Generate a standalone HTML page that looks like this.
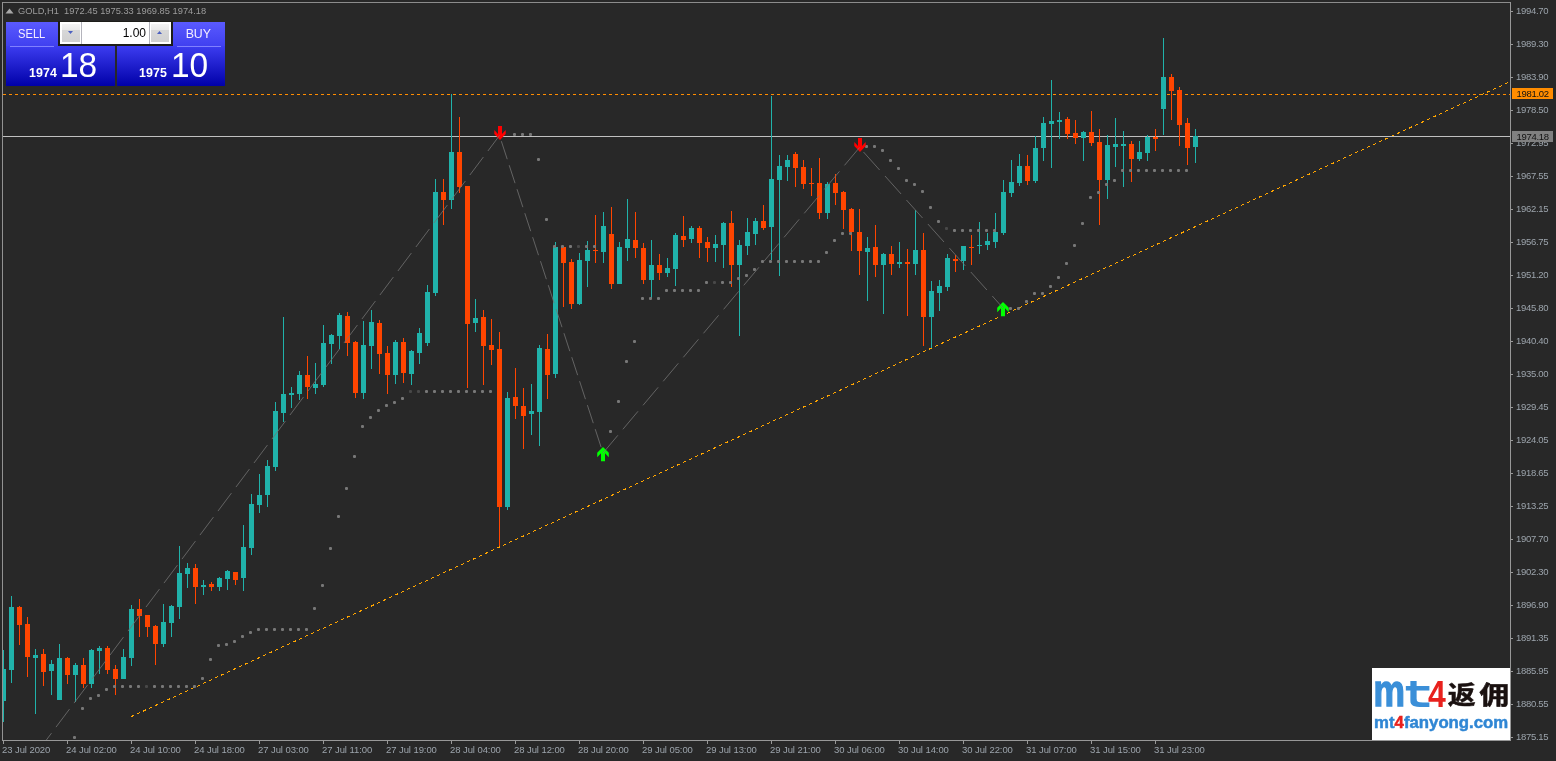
<!DOCTYPE html>
<html><head><meta charset="utf-8"><title>GOLD,H1</title>
<style>
html,body{margin:0;padding:0}
body{width:1556px;height:761px;overflow:hidden;position:relative;background:#282828;font-family:"Liberation Sans",sans-serif}
#chart{position:absolute;left:0;top:0}
.pl{position:absolute;left:1516px;letter-spacing:-.3px;font-size:9.5px;line-height:11px;height:11px;color:#9ca4ac;white-space:nowrap}
.tl{position:absolute;top:744px;letter-spacing:-.08px;font-size:9.5px;line-height:11px;color:#9ca4ac;white-space:nowrap}
.tag{position:absolute;left:1512px;width:41px;height:11px;letter-spacing:-.3px;font-size:9.5px;line-height:11px;color:#111;text-indent:4.5px;white-space:nowrap}
#title{position:absolute;left:18px;top:6px;font-size:9.3px;line-height:11px;color:#9c9c9c;white-space:pre}
.tab{position:absolute;top:22px;height:24px;width:52px;background:linear-gradient(#5a5aff,#4040f0);color:#f4eeff;font-size:12px;line-height:23px;text-align:center}
.tab span{display:inline-block;position:relative;top:1px;transform:scaleX(.93)}
.tab i{position:absolute;left:4px;right:4px;bottom:-1px;height:1px;background:#8080ff}
.pan{position:absolute;top:46px;height:40px;width:109px;background:linear-gradient(#3c3cf0,#0000a8);color:#fff}
.pan b{position:absolute;top:20px;font-size:12.4px;line-height:14px;letter-spacing:.1px}
.pan em{position:absolute;top:0px;font-style:normal;font-size:34.5px;line-height:38px;transform-origin:0 0;transform:scaleX(.97)}
#inpbg{position:absolute;left:58px;top:21px;width:115px;height:25px;background:#1d1d19}
#inp{position:absolute;left:60px;top:22px;width:111px;height:22px;background:#fff}
#inp .b{position:absolute;top:2px;width:18px;height:18px;background:linear-gradient(#f4f4f4 0,#e9e9e9 33%,#d8d8d8 34%,#d0d0d0 100%)}
#inp .s{position:absolute;top:0;width:1px;height:22px;background:#b4b4bc}
#inp .v{position:absolute;right:25px;top:4px;font-size:12px;line-height:14px;color:#000}
#logo{position:absolute;left:1372px;top:668px;width:139px;height:73px;background:#fff;overflow:hidden}
</style></head><body>

<svg id="chart" width="1556" height="761" viewBox="0 0 1556 761"><line x1="3" y1="94.5" x2="1510" y2="94.5" stroke="#ff8c00" stroke-width="1" stroke-dasharray="3 3" shape-rendering="crispEdges"/>
<line x1="131" y1="716.72" x2="1509" y2="82.15" stroke="#ffa500" stroke-width="1" stroke-dasharray="3.3028 3.3028" shape-rendering="crispEdges"/>
<rect x="3" y="136" width="1507" height="1" fill="#c0c0c0" shape-rendering="crispEdges"/>
<g shape-rendering="crispEdges"><rect x="3" y="650" width="1" height="72" fill="#20b2aa"/><rect x="3" y="669" width="3" height="32" fill="#20b2aa"/><rect x="11" y="596" width="1" height="87" fill="#20b2aa"/><rect x="9" y="607" width="5" height="63" fill="#20b2aa"/><rect x="19" y="606" width="1" height="39" fill="#ff4500"/><rect x="17" y="607" width="5" height="18" fill="#ff4500"/><rect x="27" y="617" width="1" height="60" fill="#ff4500"/><rect x="25" y="624" width="5" height="33" fill="#ff4500"/><rect x="35" y="649" width="1" height="65" fill="#20b2aa"/><rect x="33" y="655" width="5" height="3" fill="#20b2aa"/><rect x="43" y="649" width="1" height="37" fill="#ff4500"/><rect x="41" y="654" width="5" height="18" fill="#ff4500"/><rect x="51" y="660" width="1" height="35" fill="#20b2aa"/><rect x="49" y="664" width="5" height="7" fill="#20b2aa"/><rect x="59" y="644" width="1" height="56" fill="#20b2aa"/><rect x="57" y="658" width="5" height="42" fill="#20b2aa"/><rect x="67" y="657" width="1" height="27" fill="#ff4500"/><rect x="65" y="658" width="5" height="17" fill="#ff4500"/><rect x="75" y="663" width="1" height="39" fill="#20b2aa"/><rect x="73" y="665" width="5" height="10" fill="#20b2aa"/><rect x="83" y="658" width="1" height="30" fill="#ff4500"/><rect x="81" y="665" width="5" height="19" fill="#ff4500"/><rect x="91" y="649" width="1" height="39" fill="#20b2aa"/><rect x="89" y="650" width="5" height="34" fill="#20b2aa"/><rect x="99" y="646" width="1" height="28" fill="#20b2aa"/><rect x="97" y="648" width="5" height="3" fill="#20b2aa"/><rect x="107" y="646" width="1" height="28" fill="#ff4500"/><rect x="105" y="648" width="5" height="22" fill="#ff4500"/><rect x="115" y="665" width="1" height="30" fill="#ff4500"/><rect x="113" y="669" width="5" height="10" fill="#ff4500"/><rect x="123" y="649" width="1" height="30" fill="#20b2aa"/><rect x="121" y="657" width="5" height="22" fill="#20b2aa"/><rect x="131" y="605" width="1" height="61" fill="#20b2aa"/><rect x="129" y="609" width="5" height="49" fill="#20b2aa"/><rect x="139" y="599" width="1" height="38" fill="#ff4500"/><rect x="137" y="609" width="5" height="7" fill="#ff4500"/><rect x="147" y="615" width="1" height="22" fill="#ff4500"/><rect x="145" y="615" width="5" height="12" fill="#ff4500"/><rect x="155" y="625" width="1" height="40" fill="#ff4500"/><rect x="153" y="626" width="5" height="18" fill="#ff4500"/><rect x="163" y="604" width="1" height="43" fill="#20b2aa"/><rect x="161" y="622" width="5" height="22" fill="#20b2aa"/><rect x="171" y="605" width="1" height="32" fill="#20b2aa"/><rect x="169" y="606" width="5" height="17" fill="#20b2aa"/><rect x="179" y="546" width="1" height="73" fill="#20b2aa"/><rect x="177" y="573" width="5" height="34" fill="#20b2aa"/><rect x="187" y="563" width="1" height="25" fill="#20b2aa"/><rect x="185" y="568" width="5" height="6" fill="#20b2aa"/><rect x="195" y="564" width="1" height="40" fill="#ff4500"/><rect x="193" y="568" width="5" height="19" fill="#ff4500"/><rect x="203" y="580" width="1" height="15" fill="#20b2aa"/><rect x="201" y="585" width="5" height="2" fill="#20b2aa"/><rect x="211" y="582" width="1" height="9" fill="#ff4500"/><rect x="209" y="584" width="5" height="3" fill="#ff4500"/><rect x="219" y="577" width="1" height="14" fill="#20b2aa"/><rect x="217" y="578" width="5" height="9" fill="#20b2aa"/><rect x="227" y="570" width="1" height="20" fill="#20b2aa"/><rect x="225" y="571" width="5" height="8" fill="#20b2aa"/><rect x="235" y="572" width="1" height="13" fill="#ff4500"/><rect x="233" y="572" width="5" height="8" fill="#ff4500"/><rect x="243" y="525" width="1" height="66" fill="#20b2aa"/><rect x="241" y="547" width="5" height="31" fill="#20b2aa"/><rect x="251" y="494" width="1" height="61" fill="#20b2aa"/><rect x="249" y="504" width="5" height="44" fill="#20b2aa"/><rect x="259" y="474" width="1" height="39" fill="#20b2aa"/><rect x="257" y="495" width="5" height="10" fill="#20b2aa"/><rect x="267" y="460" width="1" height="47" fill="#20b2aa"/><rect x="265" y="466" width="5" height="29" fill="#20b2aa"/><rect x="275" y="402" width="1" height="69" fill="#20b2aa"/><rect x="273" y="411" width="5" height="56" fill="#20b2aa"/><rect x="283" y="317" width="1" height="105" fill="#20b2aa"/><rect x="281" y="394" width="5" height="19" fill="#20b2aa"/><rect x="291" y="387" width="1" height="21" fill="#20b2aa"/><rect x="289" y="393" width="5" height="2" fill="#20b2aa"/><rect x="299" y="371" width="1" height="29" fill="#20b2aa"/><rect x="297" y="375" width="5" height="19" fill="#20b2aa"/><rect x="307" y="356" width="1" height="43" fill="#ff4500"/><rect x="305" y="375" width="5" height="12" fill="#ff4500"/><rect x="315" y="363" width="1" height="31" fill="#20b2aa"/><rect x="313" y="384" width="5" height="4" fill="#20b2aa"/><rect x="323" y="325" width="1" height="62" fill="#20b2aa"/><rect x="321" y="343" width="5" height="42" fill="#20b2aa"/><rect x="331" y="334" width="1" height="30" fill="#20b2aa"/><rect x="329" y="335" width="5" height="9" fill="#20b2aa"/><rect x="339" y="313" width="1" height="36" fill="#20b2aa"/><rect x="337" y="315" width="5" height="21" fill="#20b2aa"/><rect x="347" y="312" width="1" height="44" fill="#ff4500"/><rect x="345" y="316" width="5" height="27" fill="#ff4500"/><rect x="355" y="341" width="1" height="57" fill="#ff4500"/><rect x="353" y="342" width="5" height="51" fill="#ff4500"/><rect x="363" y="321" width="1" height="78" fill="#20b2aa"/><rect x="361" y="345" width="5" height="48" fill="#20b2aa"/><rect x="371" y="310" width="1" height="59" fill="#20b2aa"/><rect x="369" y="322" width="5" height="24" fill="#20b2aa"/><rect x="379" y="320" width="1" height="54" fill="#ff4500"/><rect x="377" y="323" width="5" height="31" fill="#ff4500"/><rect x="387" y="346" width="1" height="48" fill="#ff4500"/><rect x="385" y="353" width="5" height="22" fill="#ff4500"/><rect x="395" y="340" width="1" height="44" fill="#20b2aa"/><rect x="393" y="342" width="5" height="33" fill="#20b2aa"/><rect x="403" y="338" width="1" height="45" fill="#ff4500"/><rect x="401" y="342" width="5" height="31" fill="#ff4500"/><rect x="411" y="350" width="1" height="35" fill="#20b2aa"/><rect x="409" y="351" width="5" height="23" fill="#20b2aa"/><rect x="419" y="328" width="1" height="36" fill="#20b2aa"/><rect x="417" y="333" width="5" height="20" fill="#20b2aa"/><rect x="427" y="285" width="1" height="61" fill="#20b2aa"/><rect x="425" y="292" width="5" height="51" fill="#20b2aa"/><rect x="435" y="179" width="1" height="117" fill="#20b2aa"/><rect x="433" y="192" width="5" height="101" fill="#20b2aa"/><rect x="443" y="179" width="1" height="46" fill="#ff4500"/><rect x="441" y="192" width="5" height="8" fill="#ff4500"/><rect x="451" y="94" width="1" height="115" fill="#20b2aa"/><rect x="449" y="152" width="5" height="48" fill="#20b2aa"/><rect x="459" y="117" width="1" height="76" fill="#ff4500"/><rect x="457" y="152" width="5" height="35" fill="#ff4500"/><rect x="467" y="186" width="1" height="202" fill="#ff4500"/><rect x="465" y="186" width="5" height="138" fill="#ff4500"/><rect x="475" y="299" width="1" height="33" fill="#20b2aa"/><rect x="473" y="318" width="5" height="5" fill="#20b2aa"/><rect x="483" y="310" width="1" height="75" fill="#ff4500"/><rect x="481" y="317" width="5" height="29" fill="#ff4500"/><rect x="491" y="319" width="1" height="46" fill="#ff4500"/><rect x="489" y="345" width="5" height="5" fill="#ff4500"/><rect x="499" y="332" width="1" height="214" fill="#ff4500"/><rect x="497" y="349" width="5" height="158" fill="#ff4500"/><rect x="507" y="392" width="1" height="118" fill="#20b2aa"/><rect x="505" y="398" width="5" height="109" fill="#20b2aa"/><rect x="515" y="368" width="1" height="51" fill="#ff4500"/><rect x="513" y="397" width="5" height="9" fill="#ff4500"/><rect x="523" y="388" width="1" height="61" fill="#ff4500"/><rect x="521" y="406" width="5" height="10" fill="#ff4500"/><rect x="531" y="384" width="1" height="51" fill="#20b2aa"/><rect x="529" y="411" width="5" height="3" fill="#20b2aa"/><rect x="539" y="345" width="1" height="101" fill="#20b2aa"/><rect x="537" y="348" width="5" height="64" fill="#20b2aa"/><rect x="547" y="334" width="1" height="65" fill="#ff4500"/><rect x="545" y="349" width="5" height="26" fill="#ff4500"/><rect x="555" y="242" width="1" height="136" fill="#20b2aa"/><rect x="553" y="247" width="5" height="127" fill="#20b2aa"/><rect x="563" y="246" width="1" height="61" fill="#ff4500"/><rect x="561" y="247" width="5" height="16" fill="#ff4500"/><rect x="571" y="259" width="1" height="50" fill="#ff4500"/><rect x="569" y="262" width="5" height="42" fill="#ff4500"/><rect x="579" y="253" width="1" height="52" fill="#20b2aa"/><rect x="577" y="260" width="5" height="44" fill="#20b2aa"/><rect x="587" y="241" width="1" height="46" fill="#20b2aa"/><rect x="585" y="250" width="5" height="11" fill="#20b2aa"/><rect x="595" y="215" width="1" height="48" fill="#ff4500"/><rect x="593" y="250" width="5" height="1" fill="#ff4500"/><rect x="603" y="212" width="1" height="51" fill="#20b2aa"/><rect x="601" y="226" width="5" height="26" fill="#20b2aa"/><rect x="611" y="207" width="1" height="82" fill="#ff4500"/><rect x="609" y="234" width="5" height="50" fill="#ff4500"/><rect x="619" y="242" width="1" height="42" fill="#20b2aa"/><rect x="617" y="247" width="5" height="37" fill="#20b2aa"/><rect x="627" y="199" width="1" height="62" fill="#20b2aa"/><rect x="625" y="239" width="5" height="9" fill="#20b2aa"/><rect x="635" y="212" width="1" height="46" fill="#ff4500"/><rect x="633" y="240" width="5" height="8" fill="#ff4500"/><rect x="643" y="243" width="1" height="41" fill="#ff4500"/><rect x="641" y="248" width="5" height="32" fill="#ff4500"/><rect x="651" y="240" width="1" height="58" fill="#20b2aa"/><rect x="649" y="265" width="5" height="15" fill="#20b2aa"/><rect x="659" y="254" width="1" height="26" fill="#ff4500"/><rect x="657" y="265" width="5" height="8" fill="#ff4500"/><rect x="667" y="258" width="1" height="19" fill="#20b2aa"/><rect x="665" y="268" width="5" height="5" fill="#20b2aa"/><rect x="675" y="233" width="1" height="53" fill="#20b2aa"/><rect x="673" y="235" width="5" height="34" fill="#20b2aa"/><rect x="683" y="216" width="1" height="31" fill="#ff4500"/><rect x="681" y="236" width="5" height="4" fill="#ff4500"/><rect x="691" y="226" width="1" height="17" fill="#20b2aa"/><rect x="689" y="228" width="5" height="11" fill="#20b2aa"/><rect x="699" y="226" width="1" height="32" fill="#ff4500"/><rect x="697" y="228" width="5" height="15" fill="#ff4500"/><rect x="707" y="237" width="1" height="25" fill="#ff4500"/><rect x="705" y="242" width="5" height="6" fill="#ff4500"/><rect x="715" y="235" width="1" height="27" fill="#20b2aa"/><rect x="713" y="244" width="5" height="4" fill="#20b2aa"/><rect x="723" y="222" width="1" height="46" fill="#20b2aa"/><rect x="721" y="223" width="5" height="22" fill="#20b2aa"/><rect x="731" y="211" width="1" height="76" fill="#ff4500"/><rect x="729" y="223" width="5" height="42" fill="#ff4500"/><rect x="739" y="240" width="1" height="96" fill="#20b2aa"/><rect x="737" y="245" width="5" height="20" fill="#20b2aa"/><rect x="747" y="218" width="1" height="37" fill="#20b2aa"/><rect x="745" y="232" width="5" height="14" fill="#20b2aa"/><rect x="755" y="218" width="1" height="27" fill="#20b2aa"/><rect x="753" y="221" width="5" height="13" fill="#20b2aa"/><rect x="763" y="205" width="1" height="25" fill="#ff4500"/><rect x="761" y="221" width="5" height="7" fill="#ff4500"/><rect x="771" y="96" width="1" height="164" fill="#20b2aa"/><rect x="769" y="179" width="5" height="48" fill="#20b2aa"/><rect x="779" y="155" width="1" height="121" fill="#20b2aa"/><rect x="777" y="166" width="5" height="14" fill="#20b2aa"/><rect x="787" y="155" width="1" height="26" fill="#20b2aa"/><rect x="785" y="160" width="5" height="7" fill="#20b2aa"/><rect x="795" y="152" width="1" height="35" fill="#ff4500"/><rect x="793" y="154" width="5" height="14" fill="#ff4500"/><rect x="803" y="160" width="1" height="29" fill="#ff4500"/><rect x="801" y="167" width="5" height="17" fill="#ff4500"/><rect x="811" y="168" width="1" height="28" fill="#ff4500"/><rect x="809" y="183" width="5" height="1" fill="#ff4500"/><rect x="819" y="158" width="1" height="61" fill="#ff4500"/><rect x="817" y="183" width="5" height="30" fill="#ff4500"/><rect x="827" y="182" width="1" height="37" fill="#20b2aa"/><rect x="825" y="184" width="5" height="29" fill="#20b2aa"/><rect x="835" y="174" width="1" height="31" fill="#ff4500"/><rect x="833" y="183" width="5" height="10" fill="#ff4500"/><rect x="843" y="191" width="1" height="38" fill="#ff4500"/><rect x="841" y="192" width="5" height="18" fill="#ff4500"/><rect x="851" y="208" width="1" height="43" fill="#ff4500"/><rect x="849" y="209" width="5" height="23" fill="#ff4500"/><rect x="859" y="209" width="1" height="66" fill="#ff4500"/><rect x="857" y="232" width="5" height="19" fill="#ff4500"/><rect x="867" y="237" width="1" height="64" fill="#20b2aa"/><rect x="865" y="248" width="5" height="4" fill="#20b2aa"/><rect x="875" y="225" width="1" height="52" fill="#ff4500"/><rect x="873" y="247" width="5" height="18" fill="#ff4500"/><rect x="883" y="253" width="1" height="61" fill="#20b2aa"/><rect x="881" y="254" width="5" height="11" fill="#20b2aa"/><rect x="891" y="246" width="1" height="29" fill="#ff4500"/><rect x="889" y="254" width="5" height="10" fill="#ff4500"/><rect x="899" y="242" width="1" height="26" fill="#20b2aa"/><rect x="897" y="262" width="5" height="2" fill="#20b2aa"/><rect x="907" y="249" width="1" height="67" fill="#ff4500"/><rect x="905" y="262" width="5" height="2" fill="#ff4500"/><rect x="915" y="210" width="1" height="65" fill="#20b2aa"/><rect x="913" y="250" width="5" height="14" fill="#20b2aa"/><rect x="923" y="233" width="1" height="113" fill="#ff4500"/><rect x="921" y="250" width="5" height="67" fill="#ff4500"/><rect x="931" y="281" width="1" height="67" fill="#20b2aa"/><rect x="929" y="291" width="5" height="26" fill="#20b2aa"/><rect x="939" y="280" width="1" height="31" fill="#20b2aa"/><rect x="937" y="286" width="5" height="7" fill="#20b2aa"/><rect x="947" y="254" width="1" height="37" fill="#20b2aa"/><rect x="945" y="258" width="5" height="29" fill="#20b2aa"/><rect x="955" y="255" width="1" height="17" fill="#ff4500"/><rect x="953" y="259" width="5" height="2" fill="#ff4500"/><rect x="963" y="246" width="1" height="24" fill="#20b2aa"/><rect x="961" y="246" width="5" height="15" fill="#20b2aa"/><rect x="971" y="235" width="1" height="30" fill="#ff4500"/><rect x="969" y="247" width="5" height="1" fill="#ff4500"/><rect x="979" y="222" width="1" height="32" fill="#20b2aa"/><rect x="977" y="245" width="5" height="1" fill="#20b2aa"/><rect x="987" y="233" width="1" height="17" fill="#20b2aa"/><rect x="985" y="241" width="5" height="4" fill="#20b2aa"/><rect x="995" y="213" width="1" height="35" fill="#20b2aa"/><rect x="993" y="232" width="5" height="10" fill="#20b2aa"/><rect x="1003" y="180" width="1" height="55" fill="#20b2aa"/><rect x="1001" y="192" width="5" height="41" fill="#20b2aa"/><rect x="1011" y="160" width="1" height="37" fill="#20b2aa"/><rect x="1009" y="182" width="5" height="11" fill="#20b2aa"/><rect x="1019" y="154" width="1" height="32" fill="#20b2aa"/><rect x="1017" y="166" width="5" height="17" fill="#20b2aa"/><rect x="1027" y="155" width="1" height="30" fill="#ff4500"/><rect x="1025" y="166" width="5" height="15" fill="#ff4500"/><rect x="1035" y="136" width="1" height="47" fill="#20b2aa"/><rect x="1033" y="148" width="5" height="33" fill="#20b2aa"/><rect x="1043" y="117" width="1" height="44" fill="#20b2aa"/><rect x="1041" y="123" width="5" height="25" fill="#20b2aa"/><rect x="1051" y="80" width="1" height="88" fill="#20b2aa"/><rect x="1049" y="121" width="5" height="3" fill="#20b2aa"/><rect x="1059" y="112" width="1" height="27" fill="#20b2aa"/><rect x="1057" y="120" width="5" height="2" fill="#20b2aa"/><rect x="1067" y="117" width="1" height="22" fill="#ff4500"/><rect x="1065" y="119" width="5" height="15" fill="#ff4500"/><rect x="1075" y="120" width="1" height="24" fill="#ff4500"/><rect x="1073" y="133" width="5" height="5" fill="#ff4500"/><rect x="1083" y="131" width="1" height="30" fill="#20b2aa"/><rect x="1081" y="132" width="5" height="6" fill="#20b2aa"/><rect x="1091" y="111" width="1" height="35" fill="#ff4500"/><rect x="1089" y="132" width="5" height="11" fill="#ff4500"/><rect x="1099" y="129" width="1" height="96" fill="#ff4500"/><rect x="1097" y="142" width="5" height="38" fill="#ff4500"/><rect x="1107" y="135" width="1" height="64" fill="#20b2aa"/><rect x="1105" y="145" width="5" height="35" fill="#20b2aa"/><rect x="1115" y="118" width="1" height="49" fill="#20b2aa"/><rect x="1113" y="144" width="5" height="3" fill="#20b2aa"/><rect x="1123" y="131" width="1" height="56" fill="#20b2aa"/><rect x="1121" y="144" width="5" height="2" fill="#20b2aa"/><rect x="1131" y="141" width="1" height="41" fill="#ff4500"/><rect x="1129" y="144" width="5" height="15" fill="#ff4500"/><rect x="1139" y="141" width="1" height="20" fill="#20b2aa"/><rect x="1137" y="152" width="5" height="7" fill="#20b2aa"/><rect x="1147" y="135" width="1" height="26" fill="#20b2aa"/><rect x="1145" y="137" width="5" height="16" fill="#20b2aa"/><rect x="1155" y="129" width="1" height="22" fill="#ff4500"/><rect x="1153" y="137" width="5" height="2" fill="#ff4500"/><rect x="1163" y="38" width="1" height="97" fill="#20b2aa"/><rect x="1161" y="77" width="5" height="32" fill="#20b2aa"/><rect x="1171" y="74" width="1" height="46" fill="#ff4500"/><rect x="1169" y="77" width="5" height="14" fill="#ff4500"/><rect x="1179" y="87" width="1" height="59" fill="#ff4500"/><rect x="1177" y="90" width="5" height="35" fill="#ff4500"/><rect x="1187" y="118" width="1" height="47" fill="#ff4500"/><rect x="1185" y="123" width="5" height="25" fill="#ff4500"/><rect x="1195" y="129" width="1" height="34" fill="#20b2aa"/><rect x="1193" y="136" width="5" height="11" fill="#20b2aa"/></g>
<g><rect x="73" y="736" width="3" height="3" rx="1.1" fill="#787878"/><rect x="81" y="707" width="3" height="3" rx="1.1" fill="#787878"/><rect x="89" y="697" width="3" height="3" rx="1.1" fill="#787878"/><rect x="97" y="694" width="3" height="3" rx="1.1" fill="#787878"/><rect x="105" y="688" width="3" height="3" rx="1.1" fill="#787878"/><rect x="113" y="685" width="3" height="3" rx="1.1" fill="#787878"/><rect x="121" y="685" width="3" height="3" rx="1.1" fill="#787878"/><rect x="129" y="685" width="3" height="3" rx="1.1" fill="#787878"/><rect x="137" y="685" width="3" height="3" rx="1.1" fill="#787878"/><rect x="145" y="685" width="3" height="3" rx="1.1" fill="#787878" opacity="0.4"/><rect x="153" y="685" width="3" height="3" rx="1.1" fill="#787878"/><rect x="161" y="685" width="3" height="3" rx="1.1" fill="#787878"/><rect x="169" y="685" width="3" height="3" rx="1.1" fill="#787878"/><rect x="177" y="685" width="3" height="3" rx="1.1" fill="#787878"/><rect x="185" y="685" width="3" height="3" rx="1.1" fill="#787878"/><rect x="193" y="685" width="3" height="3" rx="1.1" fill="#787878"/><rect x="201" y="677" width="3" height="3" rx="1.1" fill="#787878"/><rect x="209" y="658" width="3" height="3" rx="1.1" fill="#787878"/><rect x="217" y="644" width="3" height="3" rx="1.1" fill="#787878"/><rect x="225" y="643" width="3" height="3" rx="1.1" fill="#787878"/><rect x="233" y="640" width="3" height="3" rx="1.1" fill="#787878"/><rect x="241" y="635" width="3" height="3" rx="1.1" fill="#787878"/><rect x="249" y="631" width="3" height="3" rx="1.1" fill="#787878"/><rect x="257" y="628" width="3" height="3" rx="1.1" fill="#787878"/><rect x="265" y="628" width="3" height="3" rx="1.1" fill="#787878"/><rect x="273" y="628" width="3" height="3" rx="1.1" fill="#787878"/><rect x="281" y="628" width="3" height="3" rx="1.1" fill="#787878"/><rect x="289" y="628" width="3" height="3" rx="1.1" fill="#787878"/><rect x="297" y="628" width="3" height="3" rx="1.1" fill="#787878"/><rect x="305" y="628" width="3" height="3" rx="1.1" fill="#787878"/><rect x="313" y="607" width="3" height="3" rx="1.1" fill="#787878"/><rect x="321" y="584" width="3" height="3" rx="1.1" fill="#787878"/><rect x="329" y="547" width="3" height="3" rx="1.1" fill="#787878"/><rect x="337" y="515" width="3" height="3" rx="1.1" fill="#787878"/><rect x="345" y="487" width="3" height="3" rx="1.1" fill="#787878"/><rect x="353" y="455" width="3" height="3" rx="1.1" fill="#787878"/><rect x="361" y="425" width="3" height="3" rx="1.1" fill="#787878"/><rect x="369" y="416" width="3" height="3" rx="1.1" fill="#787878"/><rect x="377" y="409" width="3" height="3" rx="1.1" fill="#787878"/><rect x="385" y="404" width="3" height="3" rx="1.1" fill="#787878"/><rect x="393" y="401" width="3" height="3" rx="1.1" fill="#787878"/><rect x="401" y="397" width="3" height="3" rx="1.1" fill="#787878"/><rect x="409" y="390" width="3" height="3" rx="1.1" fill="#787878" opacity="0.4"/><rect x="417" y="390" width="3" height="3" rx="1.1" fill="#787878" opacity="0.4"/><rect x="425" y="390" width="3" height="3" rx="1.1" fill="#787878"/><rect x="433" y="390" width="3" height="3" rx="1.1" fill="#787878"/><rect x="441" y="390" width="3" height="3" rx="1.1" fill="#787878"/><rect x="449" y="390" width="3" height="3" rx="1.1" fill="#787878"/><rect x="457" y="390" width="3" height="3" rx="1.1" fill="#787878"/><rect x="465" y="390" width="3" height="3" rx="1.1" fill="#787878"/><rect x="473" y="390" width="3" height="3" rx="1.1" fill="#787878"/><rect x="481" y="390" width="3" height="3" rx="1.1" fill="#787878"/><rect x="489" y="390" width="3" height="3" rx="1.1" fill="#787878"/><rect x="513" y="133" width="3" height="3" rx="1.1" fill="#787878"/><rect x="521" y="133" width="3" height="3" rx="1.1" fill="#787878"/><rect x="529" y="133" width="3" height="3" rx="1.1" fill="#787878"/><rect x="537" y="158" width="3" height="3" rx="1.1" fill="#787878"/><rect x="545" y="218" width="3" height="3" rx="1.1" fill="#787878"/><rect x="553" y="245" width="3" height="3" rx="1.1" fill="#787878"/><rect x="561" y="245" width="3" height="3" rx="1.1" fill="#787878"/><rect x="569" y="245" width="3" height="3" rx="1.1" fill="#787878"/><rect x="577" y="245" width="3" height="3" rx="1.1" fill="#787878" opacity="0.4"/><rect x="585" y="245" width="3" height="3" rx="1.1" fill="#787878"/><rect x="593" y="245" width="3" height="3" rx="1.1" fill="#787878"/><rect x="609" y="430" width="3" height="3" rx="1.1" fill="#787878"/><rect x="617" y="400" width="3" height="3" rx="1.1" fill="#787878"/><rect x="625" y="360" width="3" height="3" rx="1.1" fill="#787878"/><rect x="633" y="340" width="3" height="3" rx="1.1" fill="#787878"/><rect x="641" y="297" width="3" height="3" rx="1.1" fill="#787878"/><rect x="649" y="297" width="3" height="3" rx="1.1" fill="#787878"/><rect x="657" y="297" width="3" height="3" rx="1.1" fill="#787878"/><rect x="665" y="289" width="3" height="3" rx="1.1" fill="#787878"/><rect x="673" y="289" width="3" height="3" rx="1.1" fill="#787878"/><rect x="681" y="289" width="3" height="3" rx="1.1" fill="#787878"/><rect x="689" y="289" width="3" height="3" rx="1.1" fill="#787878"/><rect x="697" y="289" width="3" height="3" rx="1.1" fill="#787878"/><rect x="705" y="281" width="3" height="3" rx="1.1" fill="#787878"/><rect x="713" y="281" width="3" height="3" rx="1.1" fill="#787878" opacity="0.4"/><rect x="721" y="281" width="3" height="3" rx="1.1" fill="#787878"/><rect x="729" y="281" width="3" height="3" rx="1.1" fill="#787878"/><rect x="737" y="277" width="3" height="3" rx="1.1" fill="#787878"/><rect x="745" y="274" width="3" height="3" rx="1.1" fill="#787878"/><rect x="753" y="268" width="3" height="3" rx="1.1" fill="#787878"/><rect x="761" y="260" width="3" height="3" rx="1.1" fill="#787878"/><rect x="769" y="260" width="3" height="3" rx="1.1" fill="#787878"/><rect x="777" y="260" width="3" height="3" rx="1.1" fill="#787878"/><rect x="785" y="260" width="3" height="3" rx="1.1" fill="#787878"/><rect x="793" y="260" width="3" height="3" rx="1.1" fill="#787878"/><rect x="801" y="260" width="3" height="3" rx="1.1" fill="#787878"/><rect x="809" y="260" width="3" height="3" rx="1.1" fill="#787878"/><rect x="817" y="260" width="3" height="3" rx="1.1" fill="#787878"/><rect x="825" y="251" width="3" height="3" rx="1.1" fill="#787878"/><rect x="833" y="239" width="3" height="3" rx="1.1" fill="#787878"/><rect x="841" y="232" width="3" height="3" rx="1.1" fill="#787878"/><rect x="849" y="232" width="3" height="3" rx="1.1" fill="#787878"/><rect x="865" y="145" width="3" height="3" rx="1.1" fill="#787878"/><rect x="873" y="145" width="3" height="3" rx="1.1" fill="#787878"/><rect x="881" y="149" width="3" height="3" rx="1.1" fill="#787878"/><rect x="889" y="159" width="3" height="3" rx="1.1" fill="#787878"/><rect x="897" y="167" width="3" height="3" rx="1.1" fill="#787878"/><rect x="905" y="179" width="3" height="3" rx="1.1" fill="#787878"/><rect x="913" y="183" width="3" height="3" rx="1.1" fill="#787878"/><rect x="921" y="190" width="3" height="3" rx="1.1" fill="#787878"/><rect x="929" y="206" width="3" height="3" rx="1.1" fill="#787878"/><rect x="937" y="220" width="3" height="3" rx="1.1" fill="#787878"/><rect x="945" y="227" width="3" height="3" rx="1.1" fill="#787878" opacity="0.4"/><rect x="953" y="229" width="3" height="3" rx="1.1" fill="#787878"/><rect x="961" y="229" width="3" height="3" rx="1.1" fill="#787878"/><rect x="969" y="229" width="3" height="3" rx="1.1" fill="#787878"/><rect x="977" y="229" width="3" height="3" rx="1.1" fill="#787878"/><rect x="985" y="229" width="3" height="3" rx="1.1" fill="#787878"/><rect x="993" y="229" width="3" height="3" rx="1.1" fill="#787878"/><rect x="1009" y="307" width="3" height="3" rx="1.1" fill="#787878"/><rect x="1017" y="307" width="3" height="3" rx="1.1" fill="#787878"/><rect x="1025" y="300" width="3" height="3" rx="1.1" fill="#787878"/><rect x="1033" y="292" width="3" height="3" rx="1.1" fill="#787878"/><rect x="1041" y="292" width="3" height="3" rx="1.1" fill="#787878"/><rect x="1049" y="285" width="3" height="3" rx="1.1" fill="#787878"/><rect x="1057" y="276" width="3" height="3" rx="1.1" fill="#787878"/><rect x="1065" y="262" width="3" height="3" rx="1.1" fill="#787878"/><rect x="1073" y="244" width="3" height="3" rx="1.1" fill="#787878"/><rect x="1081" y="222" width="3" height="3" rx="1.1" fill="#787878"/><rect x="1089" y="196" width="3" height="3" rx="1.1" fill="#787878"/><rect x="1097" y="191" width="3" height="3" rx="1.1" fill="#787878"/><rect x="1105" y="183" width="3" height="3" rx="1.1" fill="#787878"/><rect x="1113" y="179" width="3" height="3" rx="1.1" fill="#787878"/><rect x="1121" y="169" width="3" height="3" rx="1.1" fill="#787878"/><rect x="1129" y="169" width="3" height="3" rx="1.1" fill="#787878"/><rect x="1137" y="169" width="3" height="3" rx="1.1" fill="#787878"/><rect x="1145" y="169" width="3" height="3" rx="1.1" fill="#787878"/><rect x="1153" y="169" width="3" height="3" rx="1.1" fill="#787878"/><rect x="1161" y="169" width="3" height="3" rx="1.1" fill="#787878"/><rect x="1169" y="169" width="3" height="3" rx="1.1" fill="#787878"/><rect x="1177" y="169" width="3" height="3" rx="1.1" fill="#787878"/><rect x="1185" y="169" width="3" height="3" rx="1.1" fill="#787878"/></g>
<path fill="#ff0000" d="M498,126 h4 v8 l3.7,-4 v4 l-5.7,6 l-5.7,-6 v-4 l3.7,4 z"/>
<path fill="#ff0000" d="M858,138 h4 v8 l3.7,-4 v4 l-5.7,6 l-5.7,-6 v-4 l3.7,4 z"/>
<path fill="#00ff00" d="M603,447 l5.8,5.8 v4.4 l-3.8,-4 v8 h-4 v-8 l-3.8,4 v-4.4 z"/>
<path fill="#00ff00" d="M1003,302 l5.8,5.8 v4.4 l-3.8,-4 v8 h-4 v-8 l-3.8,4 v-4.4 z"/>
<line x1="499.5" y1="135.5" x2="45.6" y2="741.0" stroke="#727272" stroke-width="0.8" stroke-dasharray="22.50 7.50" stroke-dashoffset="3.12"/>
<line x1="499.5" y1="135.5" x2="603.0" y2="453.0" stroke="#727272" stroke-width="0.8" stroke-dasharray="18.93 6.31" stroke-dashoffset="19.25"/>
<line x1="603.0" y1="453.0" x2="859.5" y2="147.5" stroke="#727272" stroke-width="0.8" stroke-dasharray="23.50 7.83" stroke-dashoffset="0.39"/>
<line x1="859.5" y1="147.5" x2="1003.0" y2="308.0" stroke="#727272" stroke-width="0.8" stroke-dasharray="24.15 8.05" stroke-dashoffset="26.16"/>
<g shape-rendering="crispEdges"><rect x="2" y="2" width="1509" height="1" fill="#8c8c8c"/><rect x="2" y="2" width="1" height="739" fill="#929292"/><rect x="1510" y="2" width="1" height="739" fill="#989898"/><rect x="2" y="740" width="1509" height="1" fill="#989898"/>
<rect x="1511" y="11" width="2" height="1" fill="#989898"/>
<rect x="1511" y="44" width="2" height="1" fill="#989898"/>
<rect x="1511" y="77" width="2" height="1" fill="#989898"/>
<rect x="1511" y="110" width="2" height="1" fill="#989898"/>
<rect x="1511" y="143" width="2" height="1" fill="#989898"/>
<rect x="1511" y="176" width="2" height="1" fill="#989898"/>
<rect x="1511" y="209" width="2" height="1" fill="#989898"/>
<rect x="1511" y="242" width="2" height="1" fill="#989898"/>
<rect x="1511" y="275" width="2" height="1" fill="#989898"/>
<rect x="1511" y="308" width="2" height="1" fill="#989898"/>
<rect x="1511" y="341" width="2" height="1" fill="#989898"/>
<rect x="1511" y="374" width="2" height="1" fill="#989898"/>
<rect x="1511" y="407" width="2" height="1" fill="#989898"/>
<rect x="1511" y="440" width="2" height="1" fill="#989898"/>
<rect x="1511" y="473" width="2" height="1" fill="#989898"/>
<rect x="1511" y="506" width="2" height="1" fill="#989898"/>
<rect x="1511" y="539" width="2" height="1" fill="#989898"/>
<rect x="1511" y="572" width="2" height="1" fill="#989898"/>
<rect x="1511" y="605" width="2" height="1" fill="#989898"/>
<rect x="1511" y="638" width="2" height="1" fill="#989898"/>
<rect x="1511" y="671" width="2" height="1" fill="#989898"/>
<rect x="1511" y="704" width="2" height="1" fill="#989898"/>
<rect x="1511" y="737" width="2" height="1" fill="#989898"/>
<rect x="3" y="741" width="1" height="3" fill="#989898"/>
<rect x="67" y="741" width="1" height="3" fill="#989898"/>
<rect x="131" y="741" width="1" height="3" fill="#989898"/>
<rect x="195" y="741" width="1" height="3" fill="#989898"/>
<rect x="259" y="741" width="1" height="3" fill="#989898"/>
<rect x="323" y="741" width="1" height="3" fill="#989898"/>
<rect x="387" y="741" width="1" height="3" fill="#989898"/>
<rect x="451" y="741" width="1" height="3" fill="#989898"/>
<rect x="515" y="741" width="1" height="3" fill="#989898"/>
<rect x="579" y="741" width="1" height="3" fill="#989898"/>
<rect x="643" y="741" width="1" height="3" fill="#989898"/>
<rect x="707" y="741" width="1" height="3" fill="#989898"/>
<rect x="771" y="741" width="1" height="3" fill="#989898"/>
<rect x="835" y="741" width="1" height="3" fill="#989898"/>
<rect x="899" y="741" width="1" height="3" fill="#989898"/>
<rect x="963" y="741" width="1" height="3" fill="#989898"/>
<rect x="1027" y="741" width="1" height="3" fill="#989898"/>
<rect x="1091" y="741" width="1" height="3" fill="#989898"/>
<rect x="1155" y="741" width="1" height="3" fill="#989898"/>
</g></svg>

<div class="pl" style="top:5px">1994.70</div>
<div class="pl" style="top:38px">1989.30</div>
<div class="pl" style="top:71px">1983.90</div>
<div class="pl" style="top:104px">1978.50</div>
<div class="pl" style="top:137px">1972.95</div>
<div class="pl" style="top:170px">1967.55</div>
<div class="pl" style="top:203px">1962.15</div>
<div class="pl" style="top:236px">1956.75</div>
<div class="pl" style="top:269px">1951.20</div>
<div class="pl" style="top:302px">1945.80</div>
<div class="pl" style="top:335px">1940.40</div>
<div class="pl" style="top:368px">1935.00</div>
<div class="pl" style="top:401px">1929.45</div>
<div class="pl" style="top:434px">1924.05</div>
<div class="pl" style="top:467px">1918.65</div>
<div class="pl" style="top:500px">1913.25</div>
<div class="pl" style="top:533px">1907.70</div>
<div class="pl" style="top:566px">1902.30</div>
<div class="pl" style="top:599px">1896.90</div>
<div class="pl" style="top:632px">1891.35</div>
<div class="pl" style="top:665px">1885.95</div>
<div class="pl" style="top:698px">1880.55</div>
<div class="pl" style="top:731px">1875.15</div>
<div class="tag" style="top:88px;background:#ff8c00">1981.02</div>
<div class="tag" style="top:131px;background:#808080">1974.18</div>
<div class="tl" style="left:2px">23 Jul 2020</div>
<div class="tl" style="left:66px">24 Jul 02:00</div>
<div class="tl" style="left:130px">24 Jul 10:00</div>
<div class="tl" style="left:194px">24 Jul 18:00</div>
<div class="tl" style="left:258px">27 Jul 03:00</div>
<div class="tl" style="left:322px">27 Jul 11:00</div>
<div class="tl" style="left:386px">27 Jul 19:00</div>
<div class="tl" style="left:450px">28 Jul 04:00</div>
<div class="tl" style="left:514px">28 Jul 12:00</div>
<div class="tl" style="left:578px">28 Jul 20:00</div>
<div class="tl" style="left:642px">29 Jul 05:00</div>
<div class="tl" style="left:706px">29 Jul 13:00</div>
<div class="tl" style="left:770px">29 Jul 21:00</div>
<div class="tl" style="left:834px">30 Jul 06:00</div>
<div class="tl" style="left:898px">30 Jul 14:00</div>
<div class="tl" style="left:962px">30 Jul 22:00</div>
<div class="tl" style="left:1026px">31 Jul 07:00</div>
<div class="tl" style="left:1090px">31 Jul 15:00</div>
<div class="tl" style="left:1154px">31 Jul 23:00</div>
<svg style="position:absolute;left:5px;top:8px" width="9" height="6"><path d="M0.5,5.5 L4.5,0.5 L8.5,5.5 Z" fill="#a8a8a8"/></svg>
<div id="title">GOLD,H1  1972.45 1975.33 1969.85 1974.18</div>
<div class="pan" style="left:6px"><b style="left:23px">1974</b><em style="left:54px">18</em></div>
<div class="pan" style="left:117px;width:108px"><b style="left:22px">1975</b><em style="left:54px">10</em></div>
<div class="tab" style="left:6px"><span>SELL</span><i></i></div>
<div class="tab" style="left:173px;width:52px"><span style="transform:scaleX(1.03);left:-1px">BUY</span><i></i></div>
<div id="inpbg"></div><div id="inp"><div class="b" style="left:2px"><svg width="18" height="18" style="display:block"><path d="M6,7 h5 l-2.5,3 z" fill="#4c60c0"/></svg></div><div class="s" style="left:21px"></div><div class="v">1.00</div><div class="s" style="left:89px"></div><div class="b" style="left:91px"><svg width="18" height="18" style="display:block"><path d="M6,10 h5 l-2.5,-3 z" fill="#4c60c0"/></svg></div></div>
<svg style="position:absolute;left:0;top:0" width="1556" height="761" viewBox="0 0 1556 761"><rect x="1372" y="668" width="138" height="72" fill="#fff" shape-rendering="crispEdges"/><defs><filter id="fy" x="-10%" y="-10%" width="120%" height="120%"><feMorphology operator="dilate" radius="0 1"/></filter></defs><text stroke="#3a8fd8" stroke-width="3.4" transform="translate(1373.58,706.00) scale(0.3532,0.4352)" font-family="'Liberation Sans',sans-serif" font-weight="bold" font-size="100" fill="#3a8fd8">m</text><g filter="url(#fy)"><text transform="translate(1404.02,705.90) scale(0.6886,0.3314)" font-family="'DejaVu Sans','Liberation Sans',sans-serif" font-weight="normal" font-size="100" fill="#3a8fd8">t</text></g><text transform="translate(1427.98,706.90) scale(0.3200,0.3652)" font-family="'Liberation Sans',sans-serif" font-weight="bold" font-size="100" fill="#e8211d">4</text><text stroke="#1a1110" stroke-width="2.2" transform="translate(1447.72,703.87) scale(0.2776,0.2485)" font-family="'Liberation Sans','Noto Sans CJK SC',sans-serif" font-weight="700" font-size="100" fill="#1a1110">返</text><text stroke="#1a1110" stroke-width="2.2" transform="translate(1479.50,703.87) scale(0.2958,0.2485)" font-family="'Liberation Sans','Noto Sans CJK SC',sans-serif" font-weight="700" font-size="100" fill="#1a1110">佣</text><text transform="translate(1374.09,727.5) scale(0.9870,1)" font-family="'Liberation Sans',sans-serif" font-weight="bold" font-size="17" fill="#2f86d4" stroke="#2f86d4" stroke-width="0.5">mt<tspan fill="#e8211d" stroke="#e8211d">4</tspan>fanyong.com</text></svg>
</body></html>
